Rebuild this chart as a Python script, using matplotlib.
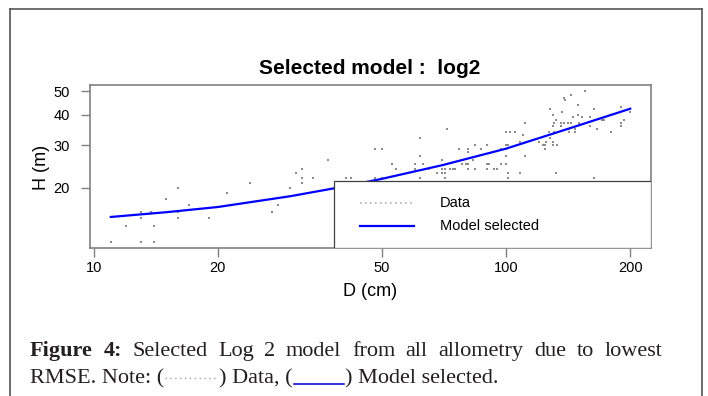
import numpy as np
import matplotlib
matplotlib.use("Agg")
import matplotlib.pyplot as plt
from matplotlib.lines import Line2D
from matplotlib.patches import Rectangle
from matplotlib.ticker import NullLocator

# tree diameter (cm) and height (m)
diam_cm = [11, 12, 13, 13, 13, 13.8, 14, 14, 15, 16, 16, 16, 17, 19, 21, 24, 27, 28,
           30, 31, 32, 32, 32, 34, 37, 41, 42, 48, 50, 48, 50, 53, 54, 60, 60,
           62, 62, 62, 63, 65, 68, 70, 70, 70, 71, 71, 71, 72, 73, 74.5, 75, 77,
           78, 80, 81, 81, 81, 81, 83, 84, 84, 87, 90, 90, 90, 91, 93.5, 95, 97, 97,
           100, 100, 100, 100, 100, 101, 101, 101, 102, 105, 108, 108, 110, 111, 111,
           120, 123, 124, 124, 125, 127, 128, 128, 130, 130, 130, 130, 131, 131,
           132, 132, 133, 136, 136, 137, 138, 138, 139, 141, 142, 142, 144, 144,
           145, 147, 147, 149, 149, 150, 153, 155, 160, 160, 163, 163, 166, 171,
           173, 180, 190, 190, 190, 193, 200]
height_m = [12, 14, 16, 15, 12, 16, 14, 12, 18, 20, 16, 15, 17, 15, 19, 21, 16, 17,
            20, 23, 24, 22, 21, 22, 26, 22, 22, 29, 29, 22, 22, 25, 24, 25, 24,
            32, 27, 22, 25, 24, 23, 26, 24, 23, 24, 23, 22, 35, 24, 24, 24, 29,
            25, 25, 29, 28, 25, 24, 26, 30, 24, 29, 30, 25, 24, 25, 24, 24, 29, 25,
            34, 30, 29, 27, 25, 30, 23, 22, 34, 34, 31, 23, 33, 37, 27,
            31, 30, 30, 29, 31, 34, 32, 42, 40, 31, 30, 36, 37, 34,
            38, 23, 30, 37, 36, 41, 47, 37, 46, 37, 35, 34, 37, 48,
            39, 35, 34, 40, 44, 37, 39, 50, 39, 36, 42, 22, 35, 38,
            38, 34, 43, 37, 36, 38, 41]

# selected log2 model curve
model_d = [11, 15, 20, 30, 40, 50, 70, 100, 140, 200]
model_h = [15.2, 15.9, 16.7, 18.5, 20.2, 21.8, 24.8, 29.0, 34.8, 42.3]

x_ticks = [10, 20, 50, 100, 200]
y_ticks = [20, 30, 40, 50]

W, H = 708, 396
plt.rcParams['font.family'] = ['Liberation Sans', 'DejaVu Sans']

fig = plt.figure(figsize=(W / 100, H / 100), dpi=100)
ax = fig.add_axes([90 / W, 1 - 248 / H, (651 - 90) / W, (248 - 85) / H])
ax.set_xscale('log')
ax.set_yscale('log')

ax.scatter(diam_cm, height_m, s=2.2, marker='s', color='#8c8c8c', linewidths=0, zorder=2)
ax.plot(model_d, model_h, color='#0000ff', lw=1.6, zorder=3)


def padded(vals):
    # R style 4% padding, in log space
    lo, hi = np.log10(min(vals)), np.log10(max(vals))
    r = hi - lo
    return 10 ** (lo - 0.04 * r), 10 ** (hi + 0.04 * r)


ax.set_xlim(*padded(diam_cm))
ax.set_ylim(*padded(height_m))
ax.set_xticks(x_ticks)
ax.set_xticklabels([str(t) for t in x_ticks])
ax.set_yticks(y_ticks)
ax.set_yticklabels([str(t) for t in y_ticks])
ax.xaxis.set_minor_locator(NullLocator())
ax.yaxis.set_minor_locator(NullLocator())
ax.tick_params(axis='both', length=6.5, width=1, color='#808080', labelsize=10.5)
ax.tick_params(axis='x', pad=3)
ax.tick_params(axis='y', pad=8)
for s in ax.spines.values():
    s.set_color('#808080')
    s.set_linewidth(1.2)

# legend box, drawn by hand like the R one
ax.add_patch(Rectangle((0.435, 0), 0.565, 0.413, transform=ax.transAxes,
                       facecolor='white', edgecolor='#404040', lw=0.9, zorder=4))
ax.plot([0.481, 0.578], [0.276, 0.276], transform=ax.transAxes, color='#b0b0b0',
        lw=1.2, ls=(0, (1, 2)), zorder=5)
ax.plot([0.481, 0.578], [0.137, 0.137], transform=ax.transAxes, color='#0000ff',
        lw=1.6, zorder=5)
ax.text(0.624, 0.276, "Data", transform=ax.transAxes, fontsize=10.5, va='center', zorder=5)
ax.text(0.624, 0.137, "Model selected", transform=ax.transAxes, fontsize=10.5,
        va='center', zorder=5)

fig.text(370 / W, 1 - 68 / H, "Selected model :  log2", fontsize=15,
         fontweight='bold', ha='center', va='center')
fig.text(370 / W, 1 - 291 / H, "D (cm)", fontsize=13, ha='center', va='center')
fig.text(42 / W, 1 - 167 / H, "H (m)", fontsize=13, ha='center', va='center',
         rotation=90)

# outer frame (open at the bottom)
frame = dict(color='#555555', lw=1.2, transform=fig.transFigure)
fig.add_artist(Line2D([10 / W, 10 / W], [0, 1 - 9 / H], **frame))
fig.add_artist(Line2D([10 / W, 702 / W], [1 - 9 / H, 1 - 9 / H], **frame))
fig.add_artist(Line2D([702 / W, 702 / W], [0, 1 - 9 / H], **frame))

# caption below the chart
fig.canvas.draw()
renderer = fig.canvas.get_renderer()
cap = dict(family=['Liberation Serif', 'DejaVu Serif'], fontsize=16, color='#231f20',
           va='baseline')


def put(txt, x, y, **kw):
    t = fig.text(x / W, 1 - y / H, txt, **{**cap, **kw})
    return t, t.get_window_extent(renderer).width


# line 1, justified between x=30 and x=662
line1 = [("Figure", 'bold'), ("4:", 'bold'), ("Selected", 'normal'), ("Log", 'normal'),
         ("2", 'normal'), ("model", 'normal'), ("from", 'normal'), ("all", 'normal'),
         ("allometry", 'normal'), ("due", 'normal'), ("to", 'normal'), ("lowest", 'normal')]
base1, base2 = 356, 383
items = [put(w, 0, base1, fontweight=fw) for w, fw in line1]
gap = (662 - 30 - sum(w for _, w in items)) / (len(items) - 1)
x = 30
for t, w in items:
    t.set_x(x / W)
    x += w + gap

# line 2 with the small line samples in brackets
x = 30
_, w = put("RMSE. Note: (", x, base2)
x += w + 1
fig.add_artist(Line2D([x / W, (x + 52) / W], [1 - (base2 - 5) / H] * 2, color='#a0a0a0',
                      lw=1, ls=(0, (1, 2.5)), transform=fig.transFigure))
x += 54
_, w = put(") Data, (", x, base2)
x += w + 1
fig.add_artist(Line2D([x / W, (x + 50) / W], [1 - (base2 + 1) / H] * 2, color='#0000cc',
                      lw=1.1, transform=fig.transFigure))
x += 51
put(") Model selected.", x, base2)

fig.savefig("out.png", dpi=100)
